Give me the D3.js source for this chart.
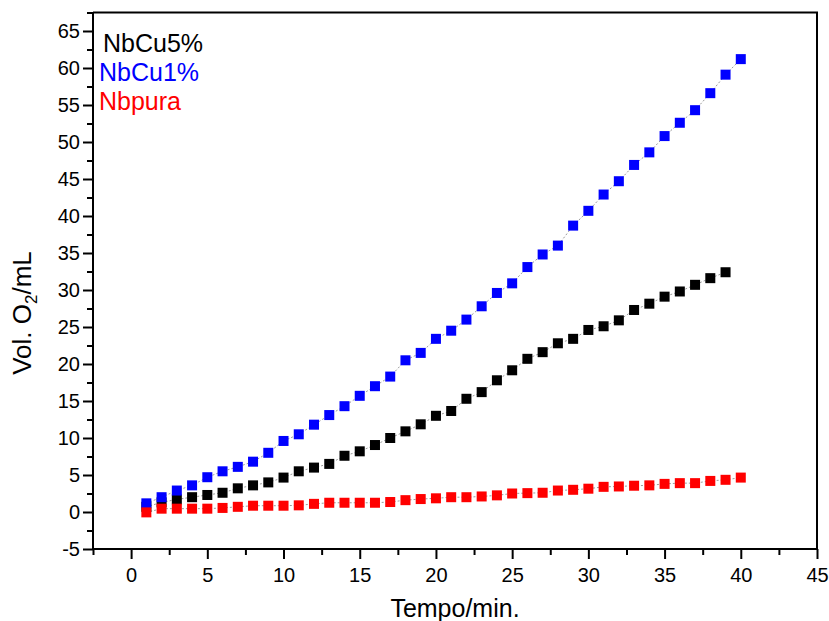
<!DOCTYPE html>
<html>
<head>
<meta charset="utf-8">
<script src="https://cdn.jsdelivr.net/npm/d3@7/dist/d3.min.js"></script>
<style>
  html, body { margin: 0; padding: 0; background: #fff; }
  svg { display: block; }
  text { font-family: Arial, "Liberation Sans", sans-serif; }
</style>
</head>
<body>
<svg id="chart" width="829" height="621"></svg>
<script>
// ---- data ----
const time = d3.range(1, 41); // minutes 1..40
const nbcu5 = [0.7, 1.3, 1.7, 2.0, 2.3, 2.6, 3.2, 3.6, 4.0, 4.65,
               5.5, 6.0, 6.5, 7.6, 8.2, 9.05, 10.0, 10.9, 11.85, 13.0,
               13.65, 15.3, 16.2, 17.8, 19.15, 20.7, 21.6, 22.8, 23.4, 24.6,
               25.1, 25.9, 27.3, 28.15, 29.1, 29.8, 30.7, 31.6, 32.4];
const nbcu1 = [1.17, 2.0, 2.9, 3.6, 4.7, 5.5, 6.1, 6.8, 8.0, 9.6,
               10.5, 11.8, 13.1, 14.3, 15.7, 17.0, 18.3, 20.5, 21.5, 23.4,
               24.5, 26.0, 27.8, 29.6, 30.9, 33.1, 34.8, 36.0, 38.7, 40.7,
               42.9, 44.7, 46.9, 48.6, 50.8, 52.6, 54.3, 56.6, 59.1, 61.2];
const nbpura = [-0.05, 0.45, 0.45, 0.45, 0.45, 0.55, 0.7, 0.85, 0.85, 0.85,
                0.9, 1.1, 1.25, 1.25, 1.25, 1.25, 1.35, 1.6, 1.75, 1.85,
                2.0, 2.0, 2.1, 2.25, 2.5, 2.55, 2.6, 2.9, 3.0, 3.15,
                3.4, 3.45, 3.55, 3.6, 3.8, 3.9, 3.9, 4.2, 4.35, 4.65];
const seriesNames = ["NbCu5%", "NbCu1%", "Nbpura"];
const seriesColors = ["#000000", "#0000ff", "#ff0000"];
const seriesValues = [nbcu5, nbcu1, nbpura];
const xTicks = [0, 5, 10, 15, 20, 25, 30, 35, 40, 45];
const yTicks = [-5, 0, 5, 10, 15, 20, 25, 30, 35, 40, 45, 50, 55, 60, 65];
const xLabel = "Tempo/min.";

// ---- layout ----
const svg = d3.select("#chart");
const L = 93, R = 817, T = 12.5, B = 549;
const x = d3.scaleLinear().domain([-2.5, 45]).range([L, R]);
const y = d3.scaleLinear().domain([-5, 67.5]).range([B, T]);
const fmt = d => String(d);

// minor ticks
const xMinor = d3.range(-2.5, 45.01, 2.5).filter(v => !xTicks.includes(v));
const yMinor = d3.range(-5, 67.51, 2.5).filter(v => !yTicks.includes(v));

// frame (top & right)
svg.append("path")
  .attr("d", `M${L},${T}H${R}V${B}`)
  .attr("fill", "none").attr("stroke", "#000").attr("stroke-width", 2);

// x axis
const gx = svg.append("g").attr("transform", `translate(0,${B})`)
  .call(d3.axisBottom(x).tickValues(xTicks).tickSize(10).tickPadding(9).tickFormat(fmt));
gx.append("g").call(d3.axisBottom(x).tickValues(xMinor).tickSize(6).tickFormat(""))
  .select(".domain").remove();
gx.selectAll(".domain").attr("stroke-width", 2).attr("d", `M${L},0H${R}`);
gx.selectAll(".tick line").attr("stroke-width", 2);
gx.selectAll(".tick text").attr("font-size", 20).attr("fill", "#000")
  .attr("font-family", "Arial, 'Liberation Sans', sans-serif");

// y axis
const gy = svg.append("g").attr("transform", `translate(${L},0)`)
  .call(d3.axisLeft(y).tickValues(yTicks).tickSize(10).tickPadding(3).tickFormat(fmt));
gy.append("g").call(d3.axisLeft(y).tickValues(yMinor).tickSize(6).tickFormat(""))
  .select(".domain").remove();
gy.selectAll(".domain").attr("stroke-width", 2).attr("d", `M0,${T}V${B}`);
gy.selectAll(".tick line").attr("stroke-width", 2);
gy.selectAll(".tick text").attr("font-size", 20).attr("fill", "#000")
  .attr("font-family", "Arial, 'Liberation Sans', sans-serif");

// series
const line = d3.line().x((d, i) => x(time[i])).y(d => y(d));
const S = 10;
seriesValues.forEach((vals, k) => {
  svg.append("path").datum(vals)
    .attr("d", line).attr("fill", "none")
    .attr("stroke", "#808080").attr("stroke-width", 0.8)
    .attr("stroke-dasharray", "2,2");
});
seriesValues.forEach((vals, k) => {
  svg.append("g").selectAll("rect").data(vals).join("rect")
    .attr("x", (d, i) => x(time[i]) - S / 2)
    .attr("y", d => y(d) - S / 2)
    .attr("width", S).attr("height", S)
    .attr("fill", seriesColors[k]);
});

// legend
seriesNames.forEach((n, k) => {
  svg.append("text")
    .attr("x", k === 0 ? 103 : 99)
    .attr("y", 52 + k * 29)
    .attr("font-size", 25)
    .attr("fill", seriesColors[k])
    .text(n);
});

// axis titles
svg.append("text")
  .attr("x", 455).attr("y", 617)
  .attr("text-anchor", "middle").attr("font-size", 25)
  .text(xLabel);

const yt = svg.append("text")
  .attr("transform", `translate(31,313) rotate(-90)`)
  .attr("text-anchor", "middle").attr("font-size", 26);
yt.append("tspan").text("Vol. O");
yt.append("tspan").attr("font-size", 17).attr("dy", 6).text("2");
yt.append("tspan").attr("dy", -6).text("/mL");
</script>
</body>
</html>
